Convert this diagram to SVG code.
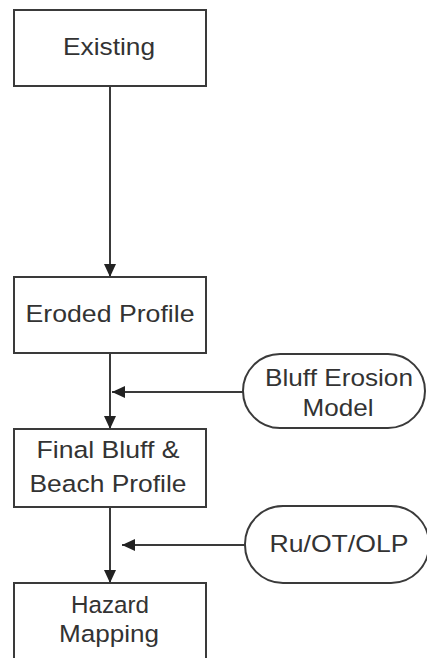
<svg xmlns="http://www.w3.org/2000/svg" width="427" height="658" viewBox="0 0 427 658">
<style>
.box{fill:#fff;stroke:#3a3a3a;stroke-width:2}
.t{font-family:"Liberation Sans",Arial,sans-serif;font-size:24.5px;fill:#333;text-anchor:middle}
.c{stroke:#3a3a3a;stroke-width:2;fill:none}
</style>
<defs>
<marker id="ah" markerUnits="userSpaceOnUse" markerWidth="13" markerHeight="12" refX="13" refY="6" orient="auto">
<path d="M0,0 L13,6 L0,12 z" fill="#222"/>
</marker>
</defs>
<rect width="427" height="658" fill="#fff"/>
<g id="connectors">
<line class="c" x1="110" y1="86" x2="110" y2="277" marker-end="url(#ah)"/>
<line class="c" x1="110" y1="353" x2="110" y2="429" marker-end="url(#ah)"/>
<line class="c" x1="243" y1="392" x2="112" y2="392" marker-end="url(#ah)"/>
<line class="c" x1="110" y1="507" x2="110" y2="583" marker-end="url(#ah)"/>
<line class="c" x1="245" y1="545" x2="122" y2="545" marker-end="url(#ah)"/>
</g>
<g id="existing">
<rect class="box" x="14" y="10" width="192" height="76"/>
<text class="t" x="109" y="55" textLength="92" lengthAdjust="spacingAndGlyphs">Existing</text>
</g>
<g id="eroded">
<rect class="box" x="14" y="277" width="192" height="76"/>
<text class="t" x="110" y="322" textLength="169" lengthAdjust="spacingAndGlyphs">Eroded Profile</text>
</g>
<g id="bluff-model">
<rect class="box" x="243" y="354" width="182" height="74" rx="37" ry="37"/>
<text class="t" x="339" y="386" textLength="148" lengthAdjust="spacingAndGlyphs">Bluff Erosion</text>
<text class="t" x="338" y="416" textLength="71" lengthAdjust="spacingAndGlyphs">Model</text>
</g>
<g id="final">
<rect class="box" x="14" y="429" width="192" height="78"/>
<text class="t" x="108" y="458" textLength="143" lengthAdjust="spacingAndGlyphs">Final Bluff &amp;</text>
<text class="t" x="108" y="492" textLength="157" lengthAdjust="spacingAndGlyphs">Beach Profile</text>
</g>
<g id="ruotolp">
<rect class="box" x="245" y="506" width="184" height="77" rx="38" ry="38"/>
<text class="t" x="339" y="552" textLength="139" lengthAdjust="spacingAndGlyphs">Ru/OT/OLP</text>
</g>
<g id="hazard">
<rect class="box" x="14" y="583" width="192" height="90"/>
<text class="t" x="110" y="613" textLength="78" lengthAdjust="spacingAndGlyphs">Hazard</text>
<text class="t" x="109" y="642" textLength="100" lengthAdjust="spacingAndGlyphs">Mapping</text>
</g>
</svg>
